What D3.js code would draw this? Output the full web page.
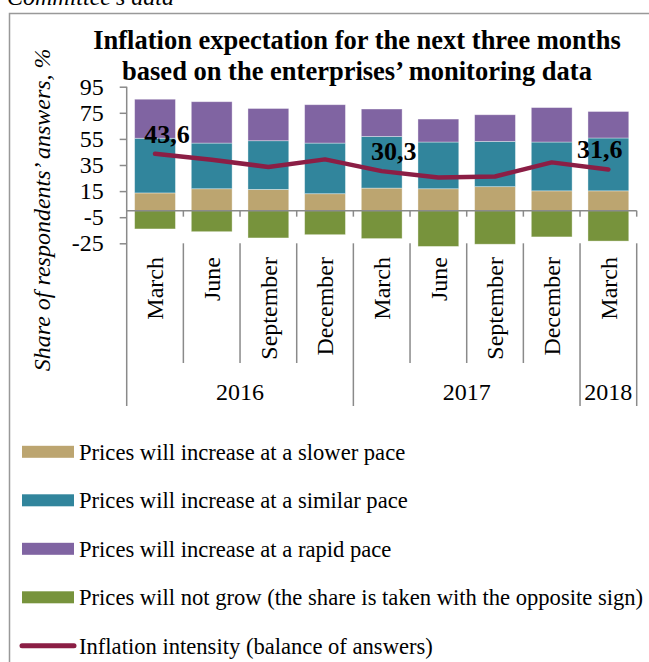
<!DOCTYPE html>
<html>
<head>
<meta charset="utf-8">
<script src="https://cdn.jsdelivr.net/npm/d3@7"></script>
<style>
  html, body { margin: 0; padding: 0; background: #fff; }
  svg { display: block; }
  text { font-family: "Liberation Serif", "Times New Roman", serif; fill: #000; }
</style>
</head>
<body>
<svg id="chart" width="649" height="662"></svg>
<script>
// Survey quarters and the year groups they belong to
const months = ["March", "June", "September", "December", "March", "June", "September", "December", "March"];
const yearLabels = ["2016", "2017", "2018"];
const yearSpans = [4, 4, 1];

// Shares of answers, %
const slowerPace = [13.6, 16.8, 16.3, 13.0, 17.3, 16.8, 18.4, 15.2, 15.2];
const similarPace = [41.9, 35.0, 37.3, 38.8, 39.6, 35.8, 34.7, 37.4, 40.5];
const rapidPace = [29.9, 31.7, 24.7, 29.4, 21.0, 17.6, 20.4, 26.4, 20.3];
const noGrowth = [14.0, 16.1, 20.9, 18.4, 21.4, 27.4, 25.7, 20.1, 23.3];
// Balance of answers (inflation intensity)
const balance = [43.6, 39.0, 33.5, 39.3, 30.3, 25.5, 26.2, 37.0, 31.6];
const labelledPoints = [0, 4, 8];

const yTicks = [95, 75, 55, 35, 15, -5, -25];
const seriesNames = [
  "Prices will increase at a slower pace",
  "Prices will increase at a similar pace",
  "Prices will increase at a rapid pace",
  "Prices will not grow (the share is taken with the opposite sign)",
  "Inflation intensity (balance of answers)"
];
const colors = ["#BCA570", "#31859C", "#8064A2", "#77933C", "#8B1E45"];

const svg = d3.select("#chart");
const axisColor = "#8a8a8a";

// Source note and outer frame
svg.append("text").attr("x", 7).attr("y", 5)
  .attr("font-size", 24).attr("font-style", "italic")
  .text("Committee’s data");
svg.append("rect").attr("x", 9.5).attr("y", 13.5).attr("width", 700).attr("height", 700)
  .attr("fill", "none").attr("stroke", "#999").attr("stroke-width", 1.5);

// Title
const title = svg.append("text").attr("text-anchor", "middle")
  .attr("font-size", 26.5).attr("font-weight", "bold");
title.append("tspan").attr("x", 357).attr("y", 49).text("Inflation expectation for the next three months");
title.append("tspan").attr("x", 357).attr("y", 80).text("based on the enterprises’ monitoring data");

// Scales
const plotLeft = 126.7, plotRight = 636.7;
const x = d3.scaleBand().domain(d3.range(months.length))
  .range([plotLeft, plotRight]).paddingInner(0.28).paddingOuter(0.14);
const y = d3.scaleLinear().domain([-25, 95]).range([243.3, 86.7]);
const step = x.step();
const slotCenter = i => x(i) + x.bandwidth() / 2;

// Stacked bars: growth answers above zero, "will not grow" below
const rows = months.map((m, i) => ({
  slower: slowerPace[i], similar: similarPace[i], rapid: rapidPace[i], none: -noGrowth[i]
}));
const keys = ["slower", "similar", "rapid", "none"];
const stacked = d3.stack().keys(keys).offset(d3.stackOffsetDiverging)(rows);

svg.append("g").selectAll("g").data(stacked).join("g")
  .attr("fill", (d, k) => colors[k])
  .selectAll("rect").data(d => d).join("rect")
  .attr("x", (d, i) => x(i))
  .attr("width", x.bandwidth())
  .attr("y", d => y(Math.max(d[0], d[1])))
  .attr("height", d => Math.abs(y(d[0]) - y(d[1])))
  .attr("stroke", "rgba(255,255,255,0.45)").attr("stroke-width", 0.8);

// Y axis (plain hyphen for negative values)
const yAxis = svg.append("g").attr("transform", `translate(${plotLeft},0)`)
  .call(d3.axisLeft(y).tickValues(yTicks).tickFormat(d => String(d))
    .tickSize(7).tickSizeOuter(0).tickPadding(16));
yAxis.select(".domain").remove();
yAxis.selectAll(".tick line").attr("stroke", axisColor).attr("stroke-width", 1.5);
yAxis.selectAll(".tick text").attr("font-size", 24)
  .attr("font-family", "\"Liberation Serif\", \"Times New Roman\", serif").attr("fill", "#000");
svg.append("line").attr("x1", plotLeft).attr("x2", plotLeft)
  .attr("y1", y(95)).attr("y2", 406)
  .attr("stroke", axisColor).attr("stroke-width", 1.5);

// Y title
svg.append("text")
  .attr("transform", `translate(42,${(46.7 + 373) / 2}) rotate(-90)`)
  .attr("text-anchor", "middle").attr("dy", "0.35em")
  .attr("font-size", 24).attr("font-style", "italic")
  .text("Share of respondents’ answers, %");

// Zero line with category tick marks
const boundaries = d3.range(months.length + 1).map(i => plotLeft + i * step);
svg.append("line").attr("x1", plotLeft).attr("x2", plotRight)
  .attr("y1", y(0)).attr("y2", y(0))
  .attr("stroke", axisColor).attr("stroke-width", 1.5);
svg.append("g").selectAll("line").data(boundaries.slice(1)).join("line")
  .attr("x1", d => d).attr("x2", d => d)
  .attr("y1", y(0)).attr("y2", y(0) + 6)
  .attr("stroke", axisColor).attr("stroke-width", 1.5);

// Two-level category labels and separators
const groupEnds = d3.cumsum(yearSpans);
const groupBoundaryIdx = new Set([0, ...groupEnds]);
svg.append("g").selectAll("line").data(boundaries.map((b, i) => ({ b, i })).filter(d => d.i > 0))
  .join("line")
  .attr("x1", d => d.b).attr("x2", d => d.b)
  .attr("y1", y(-25)).attr("y2", d => groupBoundaryIdx.has(d.i) ? 406 : 363)
  .attr("stroke", axisColor).attr("stroke-width", 1.5);

svg.append("g").selectAll("text").data(months).join("text")
  .attr("transform", (d, i) => `translate(${slotCenter(i)},257) rotate(-90)`)
  .attr("text-anchor", "end").attr("dy", "0.35em")
  .attr("font-size", 24)
  .text(d => d);

const groupStarts = [0, ...groupEnds.slice(0, -1)];
svg.append("g").selectAll("text").data(yearLabels).join("text")
  .attr("x", (d, g) => (boundaries[groupStarts[g]] + boundaries[groupEnds[g]]) / 2)
  .attr("y", 400)
  .attr("text-anchor", "middle").attr("font-size", 24)
  .text(d => d);

// Balance line
const line = d3.line().x((d, i) => slotCenter(i)).y(d => y(d));
svg.append("path").datum(balance)
  .attr("d", line).attr("fill", "none")
  .attr("stroke", colors[4]).attr("stroke-width", 4.5)
  .attr("stroke-linejoin", "round").attr("stroke-linecap", "round");

// Value labels on selected points
const fmt = v => d3.format(".1f")(v).replace(".", ",");
svg.append("g").selectAll("text").data(labelledPoints).join("text")
  .attr("x", i => Math.min(slotCenter(i) + 12, plotRight - 37))
  .attr("y", i => y(balance[i]) - 11)
  .attr("text-anchor", "middle")
  .attr("font-size", 26).attr("font-weight", "bold")
  .text(i => fmt(balance[i]));

// Legend
const legendTop = 451.8, legendStep = 48.5;
const legend = svg.append("g");
seriesNames.forEach((name, k) => {
  const cy = legendTop + k * legendStep;
  if (k < 4) {
    legend.append("rect").attr("x", 22).attr("y", cy - 6).attr("width", 52).attr("height", 12)
      .attr("fill", colors[k]);
  } else {
    legend.append("line").attr("x1", 22).attr("x2", 74).attr("y1", cy).attr("y2", cy)
      .attr("stroke", colors[k]).attr("stroke-width", 5).attr("stroke-linecap", "round");
  }
  legend.append("text").attr("x", 79).attr("y", cy + 8)
    .attr("font-size", 22.6).text(name);
});
</script>
</body>
</html>
